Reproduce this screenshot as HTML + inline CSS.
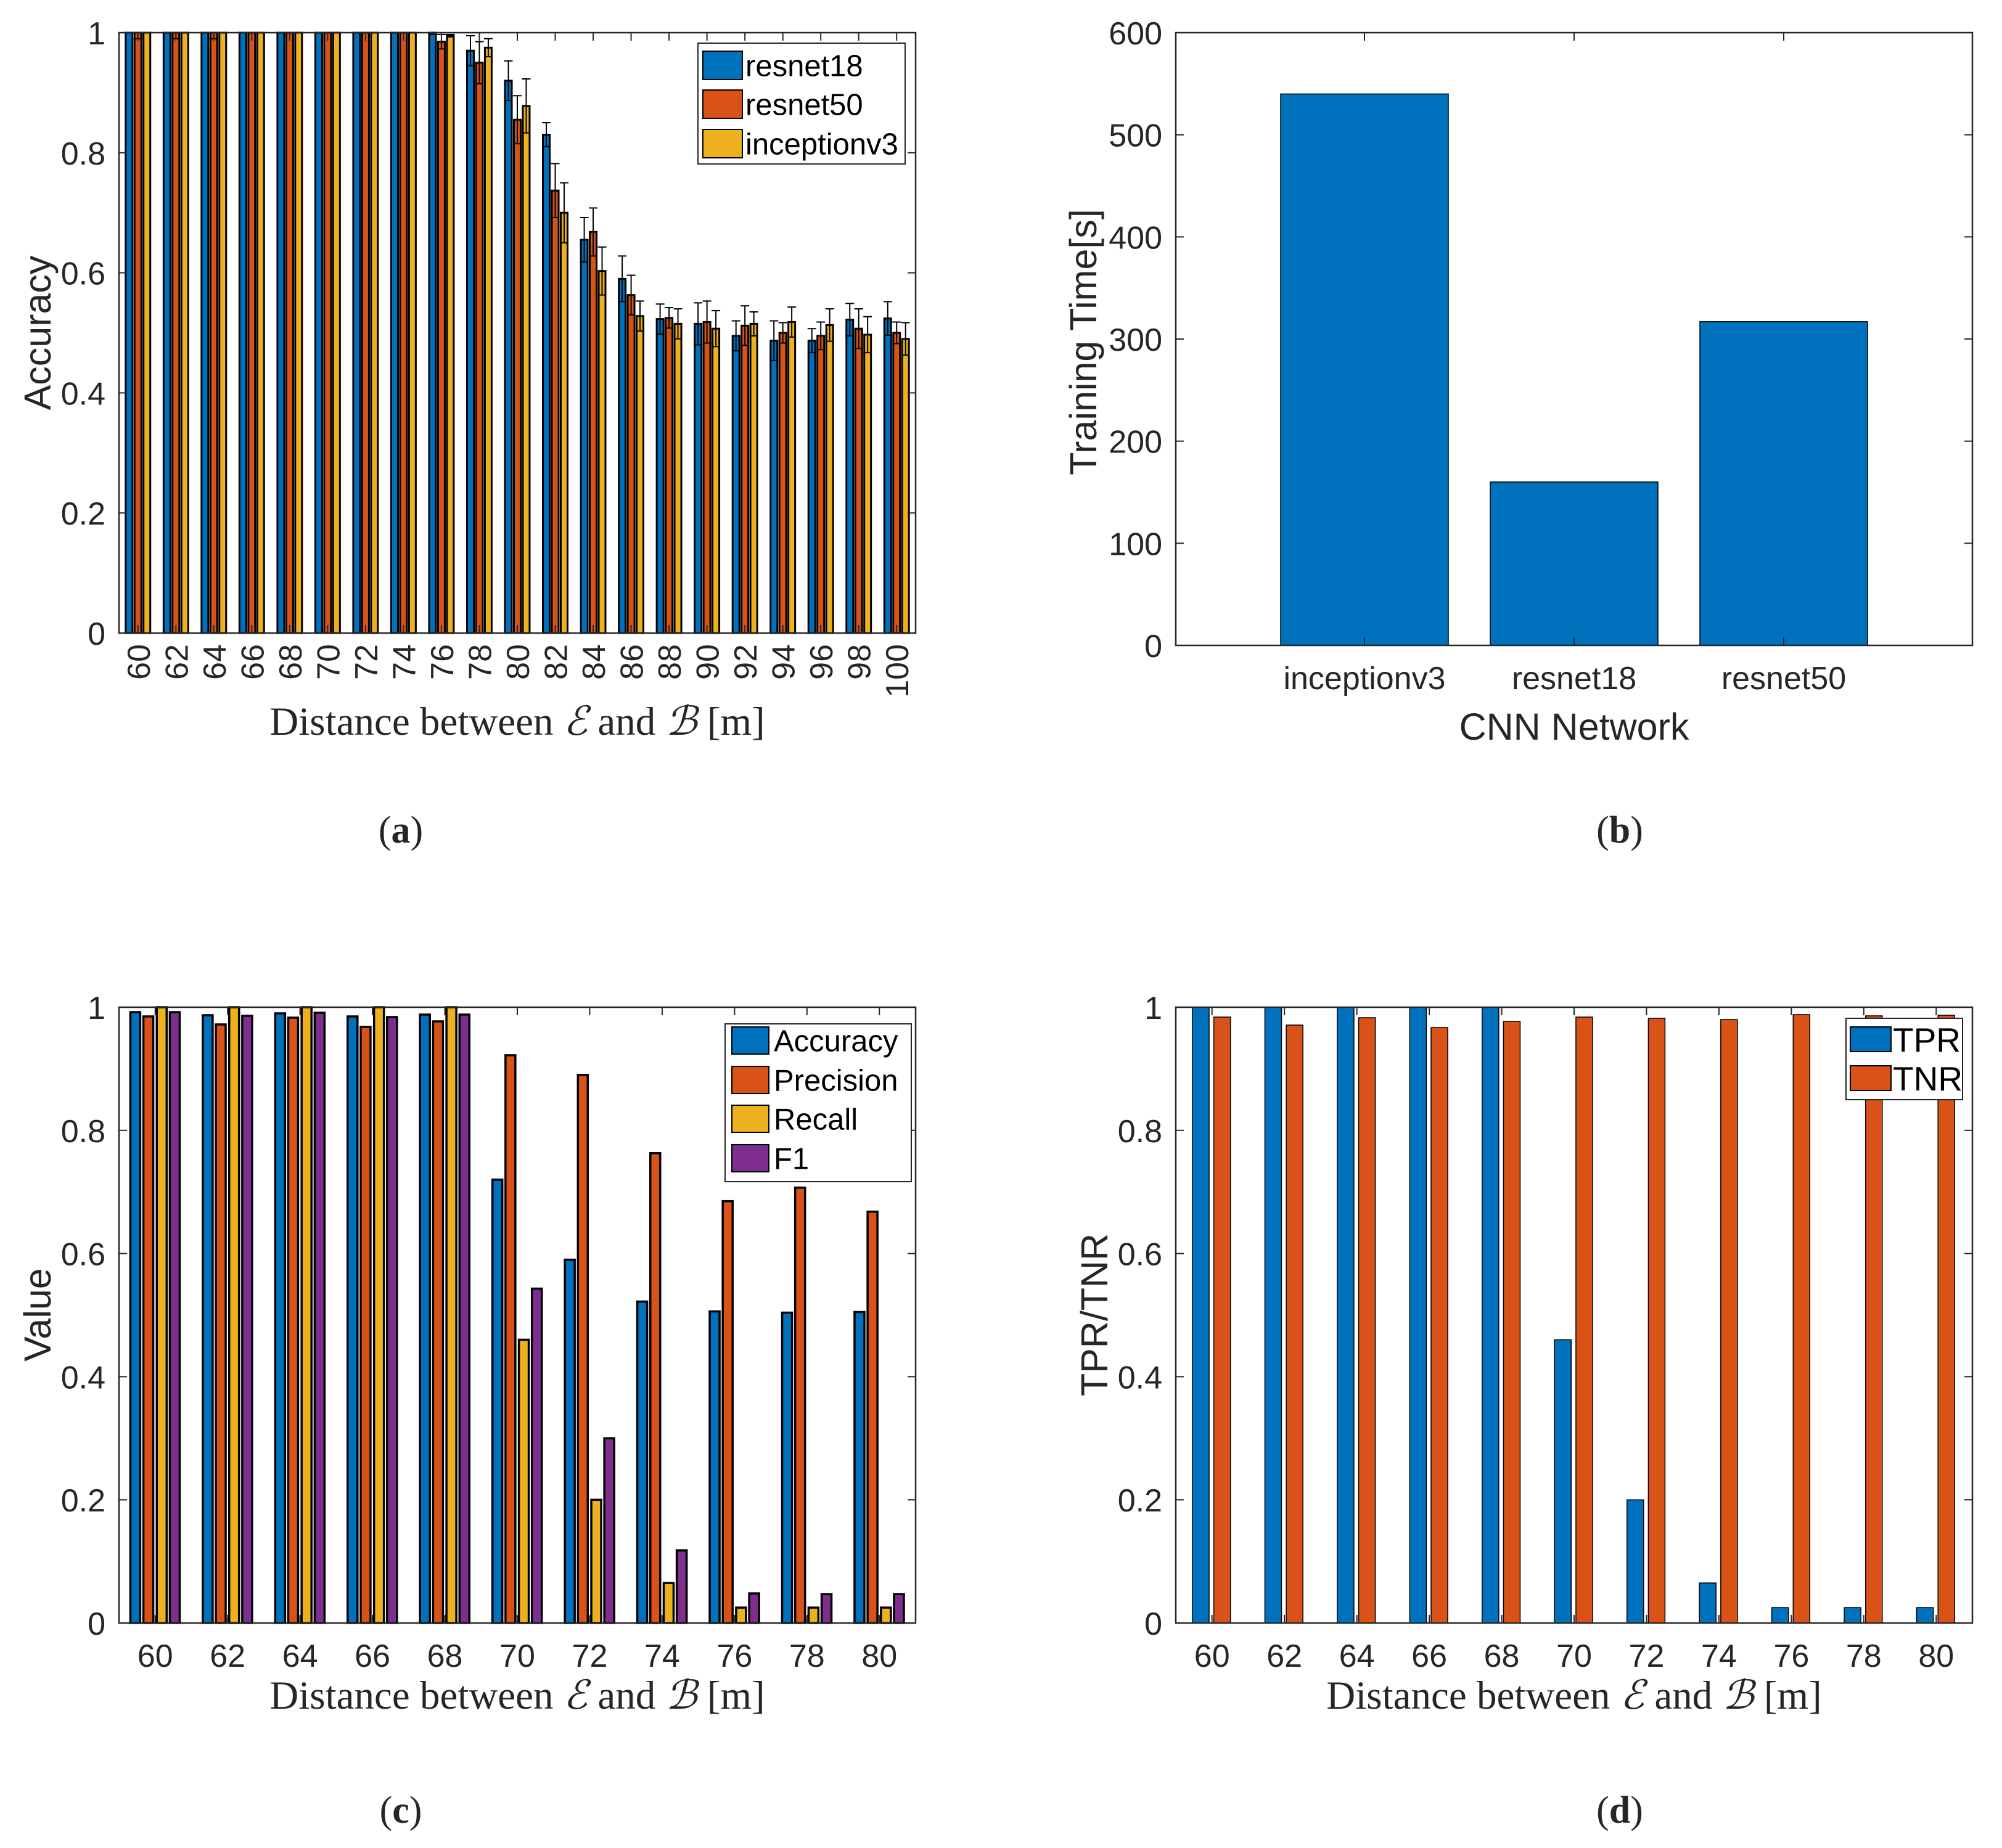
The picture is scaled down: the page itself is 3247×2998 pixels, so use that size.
<!DOCTYPE html>
<html><head><meta charset="utf-8"><style>
html,body{margin:0;padding:0;background:#fff;}
svg{display:block;}
text{fill:#262626;}
.tk{font-family:"Liberation Sans",sans-serif;font-size:52px;}
.ti{font-family:"Liberation Sans",sans-serif;font-size:61px;}
.lg{font-family:"Liberation Sans",sans-serif;fill:#000;}
.sr{font-family:"Liberation Serif","DejaVu Serif",serif;font-size:65px;}
.cap{font-family:"Liberation Serif","DejaVu Serif",serif;font-size:62px;}
</style></head><body>
<svg id="fig" xmlns="http://www.w3.org/2000/svg" width="3247" height="2998" viewBox="0 0 3247 2998">
<rect width="3247" height="2998" fill="#fff"/>
<text class="sr" x="839" y="1192" text-anchor="middle">Distance between <tspan font-style="italic">ℰ</tspan> and <tspan font-style="italic">ℬ</tspan> [m]</text>
<text class="cap" x="650" y="1367" text-anchor="middle">(<tspan font-weight="bold">a</tspan>)</text>
<text class="ti" transform="translate(82,540) rotate(-90)" text-anchor="middle">Accuracy</text>
<text class="ti" x="2553" y="1200" text-anchor="middle">CNN Network</text>
<text class="cap" x="2627" y="1367" text-anchor="middle">(<tspan font-weight="bold">b</tspan>)</text>
<text class="ti" transform="translate(1778,555) rotate(-90)" text-anchor="middle">Training Time[s]</text>
<text class="sr" x="839" y="2772" text-anchor="middle">Distance between <tspan font-style="italic">ℰ</tspan> and <tspan font-style="italic">ℬ</tspan> [m]</text>
<text class="cap" x="650" y="2957" text-anchor="middle">(<tspan font-weight="bold">c</tspan>)</text>
<text class="ti" transform="translate(82,2133) rotate(-90)" text-anchor="middle">Value</text>
<text class="sr" x="2553" y="2772" text-anchor="middle">Distance between <tspan font-style="italic">ℰ</tspan> and <tspan font-style="italic">ℬ</tspan> [m]</text>
<text class="cap" x="2627" y="2957" text-anchor="middle">(<tspan font-weight="bold">d</tspan>)</text>
<text class="ti" transform="translate(1796,2133) rotate(-90)" text-anchor="middle">TPR/TNR</text>
</svg>
<script>
// ---- Panel (a) data ----
const aCats = [60,62,64,66,68,70,72,74,76,78,80,82,84,86,88,90,92,94,96,98,100];
const aResnet18 = [1,1,1,1,1,1,1,1,1.0,0.97,0.92,0.83,0.655,0.59,0.523,0.515,0.495,0.487,0.487,0.522,0.524];
const aResnet50 = [1,1,1,1,1,1,1,1,0.985,0.95,0.855,0.737,0.668,0.563,0.525,0.518,0.512,0.5,0.495,0.507,0.5];
const aIncep = [1,1,1,1,1,1,1,1,0.995,0.975,0.878,0.70,0.603,0.528,0.515,0.507,0.515,0.518,0.513,0.497,0.49];
const aErr18 = [0,0,0,0,0,0,0,0,0.003,0.025,0.033,0.02,0.037,0.038,0.025,0.035,0.025,0.033,0.02,0.027,0.028];
const aErr50 = [0.01,0.01,0.01,0,0,0,0,0,0.012,0.035,0.04,0.045,0.04,0.033,0.017,0.035,0.033,0.017,0.023,0.033,0.018];
const aErrIn = [0,0,0,0,0,0,0,0,0.002,0.015,0.045,0.05,0.04,0.025,0.025,0.03,0.02,0.025,0.027,0.03,0.027];
const aSeriesNames = ["resnet18","resnet50","inceptionv3"];
const aYTicks = [0,0.2,0.4,0.6,0.8,1];
const aYTickLabels = ["0","0.2","0.4","0.6","0.8","1"];
// ---- Panel (b) data ----
const bCats = ["inceptionv3","resnet18","resnet50"];
const bTimes = [540,160,317];
const bYTicks = [0,100,200,300,400,500,600];
// ---- Panel (c) data ----
const cCats = [60,62,64,66,68,70,72,74,76,78,80];
const cAccuracy = [0.992,0.987,0.99,0.985,0.988,0.72,0.59,0.522,0.506,0.504,0.505];
const cPrecision = [0.985,0.972,0.983,0.968,0.977,0.922,0.89,0.763,0.685,0.707,0.668];
const cRecall = [1,1,1,1,1,0.46,0.2,0.065,0.025,0.025,0.025];
const cF1 = [0.992,0.986,0.991,0.984,0.988,0.543,0.3,0.118,0.048,0.047,0.047];
const cSeriesNames = ["Accuracy","Precision","Recall","F1"];
// ---- Panel (d) data ----
const dCats = [60,62,64,66,68,70,72,74,76,78,80];
const dTPR = [1,1,1,1,1,0.46,0.2,0.065,0.025,0.025,0.025];
const dTNR = [0.984,0.971,0.983,0.967,0.977,0.984,0.982,0.98,0.988,0.986,0.987];
const dSeriesNames = ["TPR","TNR"];

const NS = "http://www.w3.org/2000/svg";
const svg = document.getElementById("fig");
const COLORS = ["#0072BD","#D95319","#EDB120","#7E2F8E"];
function mk(tag, attrs, parent){const e=document.createElementNS(NS,tag);for(const k in attrs)e.setAttribute(k,attrs[k]);(parent||svg).appendChild(e);return e;}

function axes(P, name){
  const g = mk("g",{});
  
  
  return g;
}
function yScale(P,v){return P.b-(v-P.y0)/(P.y1-P.y0)*(P.b-P.t);}
function xScale(P,v){return P.l+(v-P.x0)/(P.x1-P.x0)*(P.r-P.l);}
function frame(P,g,name){
  const fr = mk("rect",{x:P.l,y:P.t,width:P.r-P.l,height:P.b-P.t,fill:"none",stroke:"#262626","stroke-width":2.5},g);
  
  
}
function yTicks(P,g,ticks,labels,name){
  ticks.forEach((v,i)=>{
    const y=yScale(P,v);
    mk("line",{x1:P.l,x2:P.l+13,y1:y,y2:y,stroke:"#262626","stroke-width":2},g);
    mk("line",{x1:P.r,x2:P.r-13,y1:y,y2:y,stroke:"#262626","stroke-width":2},g);
    const t=mk("text",{class:"tk",x:P.l-22,y:y+19,"text-anchor":"end"},g);
    t.textContent=labels[i];
    
    
  });
}
function xTicks(P,g,vals,labels,name,rot){
  vals.forEach((v,i)=>{
    const x=xScale(P,v);
    mk("line",{x1:x,x2:x,y1:P.b,y2:P.b-13,stroke:"#262626","stroke-width":2},g);
    mk("line",{x1:x,x2:x,y1:P.t,y2:P.t+13,stroke:"#262626","stroke-width":2},g);
    let t;
    if(rot){t=mk("text",{class:"tk","text-anchor":"end",transform:`translate(${x+19},${P.b+18}) rotate(-90)`},g);}
    else{t=mk("text",{class:"tk",x:x,y:P.b+71,"text-anchor":"middle"},g);}
    t.textContent=labels[i];
    
    
  });
}
function legend(g,box,names,rows,swx,swW,swH,txtX,fs,name){
  const lg=mk("g",{},g);
  
  
  mk("rect",{x:box[0],y:box[1],width:box[2]-box[0],height:box[3]-box[1],fill:"#fff",stroke:"#262626","stroke-width":2},lg);
  names.forEach((n,i)=>{
    const e=mk("g",{},lg);
    
    
    mk("rect",{x:swx,y:rows[i]-swH/2,width:swW,height:swH,fill:COLORS[i],stroke:"#000","stroke-width":2},e);
    const t=mk("text",{class:"lg",x:txtX,y:rows[i]+fs*0.36,style:"font-size:"+fs+"px"},e);
    t.textContent=n;
  });
}

// ===== Panel a =====
(function(){
  const P={l:193,r:1485,t:53,b:1027,x0:59,x1:101,y0:0,y1:1};
  const g=axes(P,"a");
  const series=[aResnet18,aResnet50,aIncep], errs=[aErr18,aErr50,aErrIn];
  const offs=[-0.47,0,0.47], bw=11;
  series.forEach((s,si)=>{
    s.forEach((v,i)=>{
      const cx=xScale(P,aCats[i]+offs[si]); const y=yScale(P,v);
      const r=mk("rect",{x:cx-bw/2,y:y,width:bw,height:P.b-y,fill:COLORS[si],stroke:"#000","stroke-width":3},g);
      
      
    });
  });
  series.forEach((s,si)=>{
    s.forEach((v,i)=>{
      const e=errs[si][i]; if(e<=0) return;
      const cx=xScale(P,aCats[i]+offs[si]);
      const y1=yScale(P,v+e), y2=yScale(P,v-e);
      const eb=mk("g",{stroke:"#000","stroke-width":2},g);
      
      
      mk("line",{x1:cx,x2:cx,y1:Math.max(y1,P.t),y2:y2},eb);
      if(y1>=P.t) mk("line",{x1:cx-7,x2:cx+7,y1:y1,y2:y1},eb);
      mk("line",{x1:cx-7,x2:cx+7,y1:y2,y2:y2},eb);
    });
  });
  frame(P,g,"a");
  yTicks(P,g,aYTicks,aYTickLabels,"a");
  xTicks(P,g,aCats,aCats.map(String),"a",true);
  legend(g,[1132,70,1468,266],aSeriesNames,[106,169,233],1140,64,46,1209,49,"a");
})();

// ===== Panel b =====
(function(){
  const P={l:1907,r:3199,t:53,b:1047,x0:0.1,x1:3.9,y0:0,y1:600};
  const g=axes(P,"b");
  bTimes.forEach((v,i)=>{
    const x0=xScale(P,i+1-0.4), x1=xScale(P,i+1+0.4), y=yScale(P,v);
    const r=mk("rect",{x:x0,y:y,width:x1-x0,height:P.b-y,fill:COLORS[0],stroke:"#000","stroke-width":1.5},g);
    
    
  });
  frame(P,g,"b");
  yTicks(P,g,bYTicks,bYTicks.map(String),"b");
  xTicks(P,g,[1,2,3],bCats,"b",false);
})();

// ===== Panel c =====
(function(){
  const P={l:193,r:1485,t:1634,b:2633,x0:59,x1:81,y0:0,y1:1};
  const g=axes(P,"c");
  const series=[cAccuracy,cPrecision,cRecall,cF1];
  const offs=[-0.55,-0.19,0.18,0.54], bw=16;
  series.forEach((s,si)=>{
    s.forEach((v,i)=>{
      const cx=xScale(P,cCats[i]+offs[si]); const y=yScale(P,v);
      const r=mk("rect",{x:cx-bw/2,y:y,width:bw,height:P.b-y,fill:COLORS[si],stroke:"#000","stroke-width":3.5},g);
      
      
    });
  });
  frame(P,g,"c");
  yTicks(P,g,aYTicks,aYTickLabels,"c");
  xTicks(P,g,cCats,cCats.map(String),"c",false);
  legend(g,[1176,1661,1478,1917],cSeriesNames,[1688,1752,1815,1879],1187,60,44,1255,49,"c");
})();

// ===== Panel d =====
(function(){
  const P={l:1907,r:3199,t:1634,b:2633,x0:59,x1:81,y0:0,y1:1};
  const g=axes(P,"d");
  const series=[dTPR,dTNR];
  const offs=[-0.31,0.28], bw=27;
  series.forEach((s,si)=>{
    s.forEach((v,i)=>{
      const cx=xScale(P,dCats[i]+offs[si]); const y=yScale(P,v);
      const r=mk("rect",{x:cx-bw/2,y:y,width:bw,height:P.b-y,fill:COLORS[si],stroke:"#000","stroke-width":1.5},g);
      
      
    });
  });
  frame(P,g,"d");
  yTicks(P,g,aYTicks,aYTickLabels,"d");
  xTicks(P,g,dCats,dCats.map(String),"d",false);
  legend(g,[2994,1652,3183,1784],dSeriesNames,[1686,1749],3001,66,40,3070,55,"d");
})();
</script>
</body></html>
